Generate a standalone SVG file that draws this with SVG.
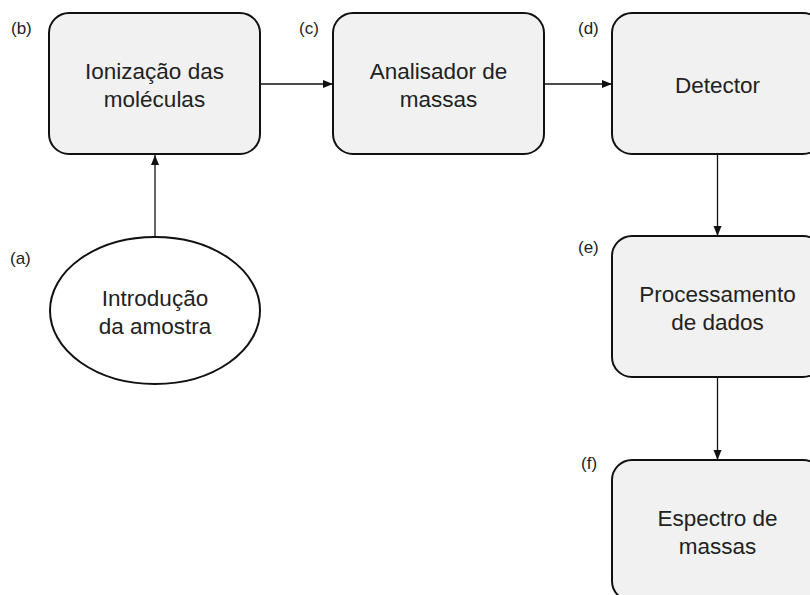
<svg xmlns="http://www.w3.org/2000/svg" width="810" height="595" viewBox="0 0 810 595">
<defs>
<style>
.box{fill:#f1f1f1;stroke:#111;stroke-width:2}
.t{font-family:"Liberation Sans",Arial,sans-serif;font-size:22.5px;fill:#222;text-anchor:middle}
.lb{font-family:"Liberation Sans",Arial,sans-serif;font-size:17px;fill:#222}
.c{stroke:#111;stroke-width:1.3;fill:none}
</style>
<marker id="ah" viewBox="0 0 10 10" refX="10" refY="5" markerWidth="10" markerHeight="10" markerUnits="userSpaceOnUse" orient="auto">
<path d="M0,1 L10,5 L0,9 Z" fill="#111"/>
</marker>
</defs>
<rect width="810" height="595" fill="#fff"/>
<g id="connectors">
<line class="c" x1="155" y1="237" x2="155" y2="155" marker-end="url(#ah)"/>
<line class="c" x1="260" y1="84" x2="333" y2="84" marker-end="url(#ah)"/>
<line class="c" x1="544" y1="84" x2="612" y2="84" marker-end="url(#ah)"/>
<line class="c" x1="717.5" y1="155" x2="717.5" y2="236" marker-end="url(#ah)"/>
<line class="c" x1="717.5" y1="378" x2="717.5" y2="460" marker-end="url(#ah)"/>
</g>
<g id="node-a">
<ellipse cx="155" cy="310.5" rx="105" ry="73.5" fill="#fff" stroke="#111" stroke-width="2"/>
<text class="t" x="155" y="306">Introdução</text>
<text class="t" x="155" y="334">da amostra</text>
<text class="lb" x="10" y="264">(a)</text>
</g>
<g id="node-b">
<rect class="box" x="49" y="13" width="211" height="141" rx="20"/>
<text class="t" x="154.5" y="79">Ionização das</text>
<text class="t" x="154.5" y="107">moléculas</text>
<text class="lb" x="11" y="34">(b)</text>
</g>
<g id="node-c">
<rect class="box" x="333" y="13" width="211" height="141" rx="20"/>
<text class="t" x="438.5" y="79">Analisador de</text>
<text class="t" x="438.5" y="107">massas</text>
<text class="lb" x="299" y="34">(c)</text>
</g>
<g id="node-d">
<rect class="box" x="612" y="13" width="211" height="141" rx="20"/>
<text class="t" x="717.5" y="93">Detector</text>
<text class="lb" x="578" y="34">(d)</text>
</g>
<g id="node-e">
<rect class="box" x="612" y="236" width="211" height="141" rx="20"/>
<text class="t" x="717.5" y="302">Processamento</text>
<text class="t" x="717.5" y="330">de dados</text>
<text class="lb" x="578" y="253">(e)</text>
</g>
<g id="node-f">
<rect class="box" x="612" y="460" width="211" height="141" rx="20"/>
<text class="t" x="717.5" y="526">Espectro de</text>
<text class="t" x="717.5" y="554">massas</text>
<text class="lb" x="581" y="469">(f)</text>
</g>
</svg>
